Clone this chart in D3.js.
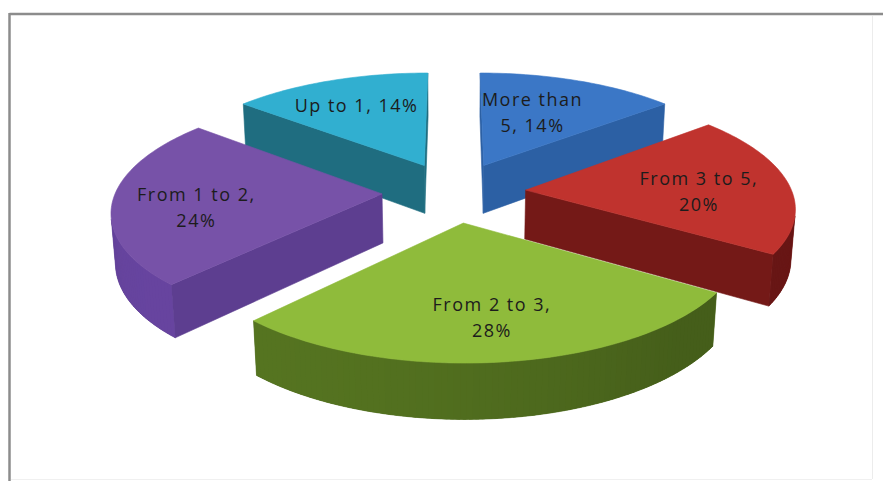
<!DOCTYPE html>
<html>
<head>
<meta charset="utf-8">
<script src="https://cdn.jsdelivr.net/npm/d3@7"></script>
<style>
  html, body { margin: 0; padding: 0; background: #ffffff; }
  svg { display: block; }
</style>
</head>
<body>
<svg id="chart" width="883" height="483"></svg>
<script>
// Share of respondents by range (percent)
const categories = ["More than 5", "From 3 to 5", "From 2 to 3", "From 1 to 2", "Up to 1"];
const shares = [14, 20, 28, 24, 14];
const topColors = ["#3b77c6", "#c0332e", "#8fbb3b", "#7752a8", "#31afd0"];
const sideColors = ["#2c60a4", "#741917", "#4d691d", "#5d3e90", "#1f6d80"];

const W = 883, H = 483;
const svg = d3.select("#chart");

// Chart frame
const frame = svg.append("g").attr("class", "frame");
frame.append("line").attr("x1", 9.5).attr("x2", 883).attr("y1", 14).attr("y2", 14)
  .attr("stroke", "#8c8c8c").attr("stroke-width", 2.5);
frame.append("line").attr("x1", 9.5).attr("x2", 9.5).attr("y1", 13).attr("y2", 481)
  .attr("stroke", "#8c8c8c").attr("stroke-width", 2.5);
frame.append("line").attr("x1", 872.5).attr("x2", 872.5).attr("y1", 16).attr("y2", 479)
  .attr("stroke", "#ececec").attr("stroke-width", 1);
frame.append("line").attr("x1", 11).attr("x2", 872).attr("y1", 479.5).attr("y2", 479.5)
  .attr("stroke", "#f0f0f0").attr("stroke-width", 1);

// Perspective view of a tilted, exploded pie disc of unit radius
const view = { cx: 454, cy: 192, f: 1785, D: 6.7, tilt: 24.8 * Math.PI / 180, thick: 0.205, explode: 0.27 };
const sT = Math.sin(view.tilt), cT = Math.cos(view.tilt);
function project(X, y, Z) {
  const depth = view.D - Z * cT - y * sT;
  return [view.cx + view.f * X / depth, view.cy + view.f * (Z * sT - y * cT) / depth];
}
const cam = [0, view.D * sT, view.D * cT];
function facing(n, p) {
  return n[0] * (cam[0] - p[0]) + n[1] * (cam[1] - p[1]) + n[2] * (cam[2] - p[2]) > 0;
}

const pie = d3.pie().sort(null).value(d => d);
const arcs = pie(shares).map((a, i) => {
  const mid = (a.startAngle + a.endAngle) / 2;
  return {
    i, a0: a.startAngle, a1: a.endAngle, mid,
    ox: view.explode * Math.sin(mid),
    oz: -view.explode * Math.cos(mid)
  };
});

const line = d3.line();
const pt = (s, r, th, y) => [s.ox + r * Math.sin(th), y, s.oz - r * Math.cos(th)];
const P = q => project(q[0], q[1], q[2]);

// Farther slices are painted first
const order = arcs.slice().sort((p, q) => p.oz - q.oz);
const gPie = svg.append("g").attr("class", "pie");
const light = [-0.7, 0.3, 0.65];

order.forEach(s => {
  const g = gPie.append("g");
  const top = topColors[s.i], side = sideColors[s.i];
  const bot = -view.thick;
  const N = Math.max(8, Math.ceil((s.a1 - s.a0) / 0.02));
  const ths = d3.range(N + 1).map(k => s.a0 + (s.a1 - s.a0) * k / N);

  // radial cut faces
  [[s.a0, [-Math.cos(s.a0), 0, -Math.sin(s.a0)]], [s.a1, [Math.cos(s.a1), 0, Math.sin(s.a1)]]].forEach(([th, n]) => {
    const c0 = pt(s, 0, th, 0);
    if (!facing(n, c0)) return;
    const poly = [pt(s, 0, th, 0), pt(s, 1, th, 0), pt(s, 1, th, bot), pt(s, 0, th, bot)].map(P);
    g.append("path").attr("d", line(poly) + "Z").attr("fill", side)
      .attr("stroke", side).attr("stroke-width", 0.6);
  });

  // outer rim: visible run as one base polygon, then shaded strips on top
  const vis = ths.filter(th => facing([Math.sin(th), 0, -Math.cos(th)], pt(s, 1, th, 0)));
  if (vis.length > 1) {
    const base = vis.map(th => P(pt(s, 1, th, 0))).concat(vis.slice().reverse().map(th => P(pt(s, 1, th, bot))));
    g.append("path").attr("d", line(base) + "Z").attr("fill", side)
      .attr("stroke", side).attr("stroke-width", 0.6);
    const step = (s.a1 - s.a0) / N;
    for (let k = 0; k < vis.length - 1; k++) {
      const t0 = vis[k], t1 = Math.min(vis[k + 1] + step * 0.6, vis[vis.length - 1]), tm = (vis[k] + vis[k + 1]) / 2;
      const n = [Math.sin(tm), 0, -Math.cos(tm)];
      const lam = Math.max(0, n[0] * light[0] + n[2] * light[2]);
      const col = d3.interpolateRgb(d3.color(side).darker(0.3), d3.color(side).brighter(0.3))(lam);
      const poly = [pt(s, 1, t0, 0), pt(s, 1, t1, 0), pt(s, 1, t1, bot), pt(s, 1, t0, bot)].map(P);
      g.append("path").attr("d", line(poly) + "Z").attr("fill", col);
    }
  }

  // top face
  const topPoly = [P(pt(s, 0, s.a0, 0))].concat(ths.map(th => P(pt(s, 1, th, 0))));
  g.append("path").attr("d", line(topPoly) + "Z").attr("fill", top)
    .attr("stroke", top).attr("stroke-width", 0.6);
});

// Data labels: "category, value%", placed on each top face
const labelRadius = [0.585, 0.65, 0.715, 0.69, 0.69];
const labelSpot = [0.42, 0.57, 0.5, 0.43, 0.5];   // position across the slice's angle
const labelBreak = [2, 4, 4, 4, 4];
const gLab = svg.append("g").attr("class", "labels")
  .attr("font-family", "'Open Sans', sans-serif").attr("font-size", 18)
  .attr("letter-spacing", 1.5).attr("fill", "#1c1c1c");
arcs.forEach(s => {
  const words = `${categories[s.i]}, ${shares[s.i]}%`.split(" ");
  const lines = [words.slice(0, labelBreak[s.i]).join(" "), words.slice(labelBreak[s.i]).join(" ")].filter(d => d);
  const th = s.a0 + (s.a1 - s.a0) * labelSpot[s.i];
  const [x, y] = P(pt(s, labelRadius[s.i], th, 0));
  const lh = 26;
  const t = gLab.append("text").attr("text-anchor", "middle");
  lines.forEach((l, j) => {
    t.append("tspan").attr("x", x).attr("y", y + (j - (lines.length - 1) / 2) * lh).attr("dy", "0.36em").text(l);
  });
});
</script>
</body>
</html>
